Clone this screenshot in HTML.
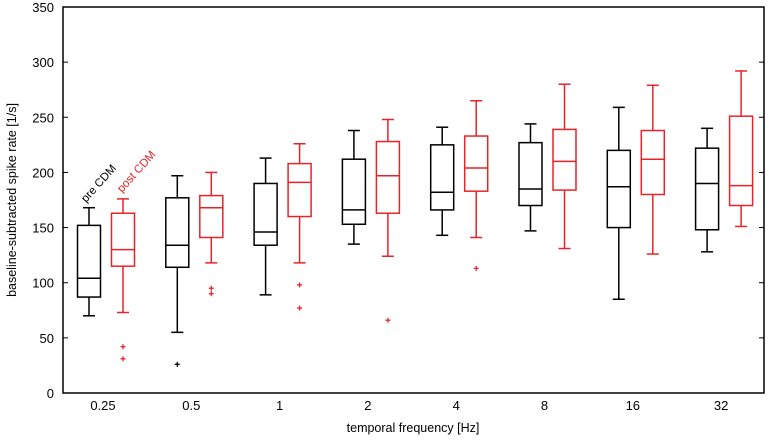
<!DOCTYPE html>
<html><head><meta charset="utf-8"><style>
html,body{margin:0;padding:0;background:#fff;}
svg text{font-family:"Liberation Sans",Arial,sans-serif;}
</style></head><body>
<svg id="chart" width="773" height="438" xmlns="http://www.w3.org/2000/svg"></svg>
<script>
const categories=["0.25","0.5","1","2","4","8","16","32"];
const preLow=[70,55,89,135,143,147,85,128];
const preQ1=[87,114,134,153,166,170,150,148];
const preMed=[104,134,146,166,182,185,187,190];
const preQ3=[152,177,190,212,225,227,220,222];
const preHigh=[168,197,213,238,241,244,259,240];
const postLow=[73,118,118,124,141,131,126,151];
const postQ1=[115,141,160,163,183,184,180,170];
const postMed=[130,168,191,197,204,210,212,188];
const postQ3=[163,179,208,228,233,239,238,251];
const postHigh=[176,200,226,248,265,280,279,292];
const preOutliers=[[1,26]];
const postOutliers=[[0,42],[0,31],[1,95],[1,90],[2,98],[2,77],[3,66],[4,113]];
const yTicks=[0,50,100,150,200,250,300,350];

const NS="http://www.w3.org/2000/svg";
const svg=document.getElementById('chart');
const L=63,R=764,T=7,B=393;
const yS=v=>B-(v/350)*(B-T);
const xC=i=>106+i*88.3;
function el(tag,attrs,parent){const e=document.createElementNS(NS,tag);for(const k in attrs)e.setAttribute(k,attrs[k]);(parent||svg).appendChild(e);return e;}

const axes=el('g',{});


const frame=el('rect',{x:L,y:T,width:R-L,height:B-T,fill:'none',stroke:'#000','stroke-width':1.5},axes);


yTicks.forEach(v=>{
  const y=yS(v);
  const t1=el('line',{x1:L,x2:L+5,y1:y,y2:y,stroke:'#000','stroke-width':1},axes);
  
  
  const t2=el('line',{x1:R-5,x2:R,y1:y,y2:y,stroke:'#000','stroke-width':1},axes);
  
  
  const tx=el('text',{x:L-9,y:y+5,'text-anchor':'end','font-size':13},axes);
  tx.textContent=v;
  
  
});
categories.forEach((c,i)=>{
  const tx=el('text',{x:xC(i)-3,y:410,'text-anchor':'middle','font-size':13},axes);
  tx.textContent=c;
  
  
});
const xt=el('text',{x:413,y:432,'text-anchor':'middle','font-size':12.5});
xt.textContent='temporal frequency [Hz]';


const yt=el('text',{x:0,y:0,'text-anchor':'middle','font-size':12.5,transform:'translate(16,200) rotate(-90)'});
yt.textContent='baseline-subtracted spike rate [1/s]';



function box(i,off,lo,q1,md,q3,hi,color,name){
  const g=el('g',{stroke:color,'stroke-width':1.5,fill:'none'});
  
  
  const cx=xC(i)+off,w=11.5,cw=6;
  el('line',{x1:cx,x2:cx,y1:yS(hi),y2:yS(q3)},g);
  el('line',{x1:cx,x2:cx,y1:yS(q1),y2:yS(lo)},g);
  el('line',{x1:cx-cw,x2:cx+cw,y1:yS(hi),y2:yS(hi)},g);
  el('line',{x1:cx-cw,x2:cx+cw,y1:yS(lo),y2:yS(lo)},g);
  el('rect',{x:cx-w,y:yS(q3),width:2*w,height:yS(q1)-yS(q3)},g);
  el('line',{x1:cx-w,x2:cx+w,y1:yS(md),y2:yS(md)},g);
}
categories.forEach((c,i)=>{
  box(i,-17,preLow[i],preQ1[i],preMed[i],preQ3[i],preHigh[i],'#000','box-pre-'+c);
  box(i,17,postLow[i],postQ1[i],postMed[i],postQ3[i],postHigh[i],'#e8232a','box-post-'+c);
});
function outlier(i,off,v,color,name){
  const cx=xC(i)+off,y=yS(v);
  const g=el('g',{stroke:color,'stroke-width':1.3});
  
  
  el('line',{x1:cx-2.5,x2:cx+2.5,y1:y,y2:y},g);
  el('line',{x1:cx,x2:cx,y1:y-2.5,y2:y+2.5},g);
}
preOutliers.forEach(o=>outlier(o[0],-17,o[1],'#000','outlier-pre'));
postOutliers.forEach(o=>outlier(o[0],17,o[1],'#e8232a','outlier-post'));

const l1=el('text',{x:0,y:0,'font-size':11.5,fill:'#000',transform:'translate(86,203) rotate(-48)'});
l1.textContent='pre CDM';


const l2=el('text',{x:0,y:0,'font-size':11.5,fill:'#e8232a',transform:'translate(122,193) rotate(-48)'});
l2.textContent='post CDM';


</script>
</body></html>
